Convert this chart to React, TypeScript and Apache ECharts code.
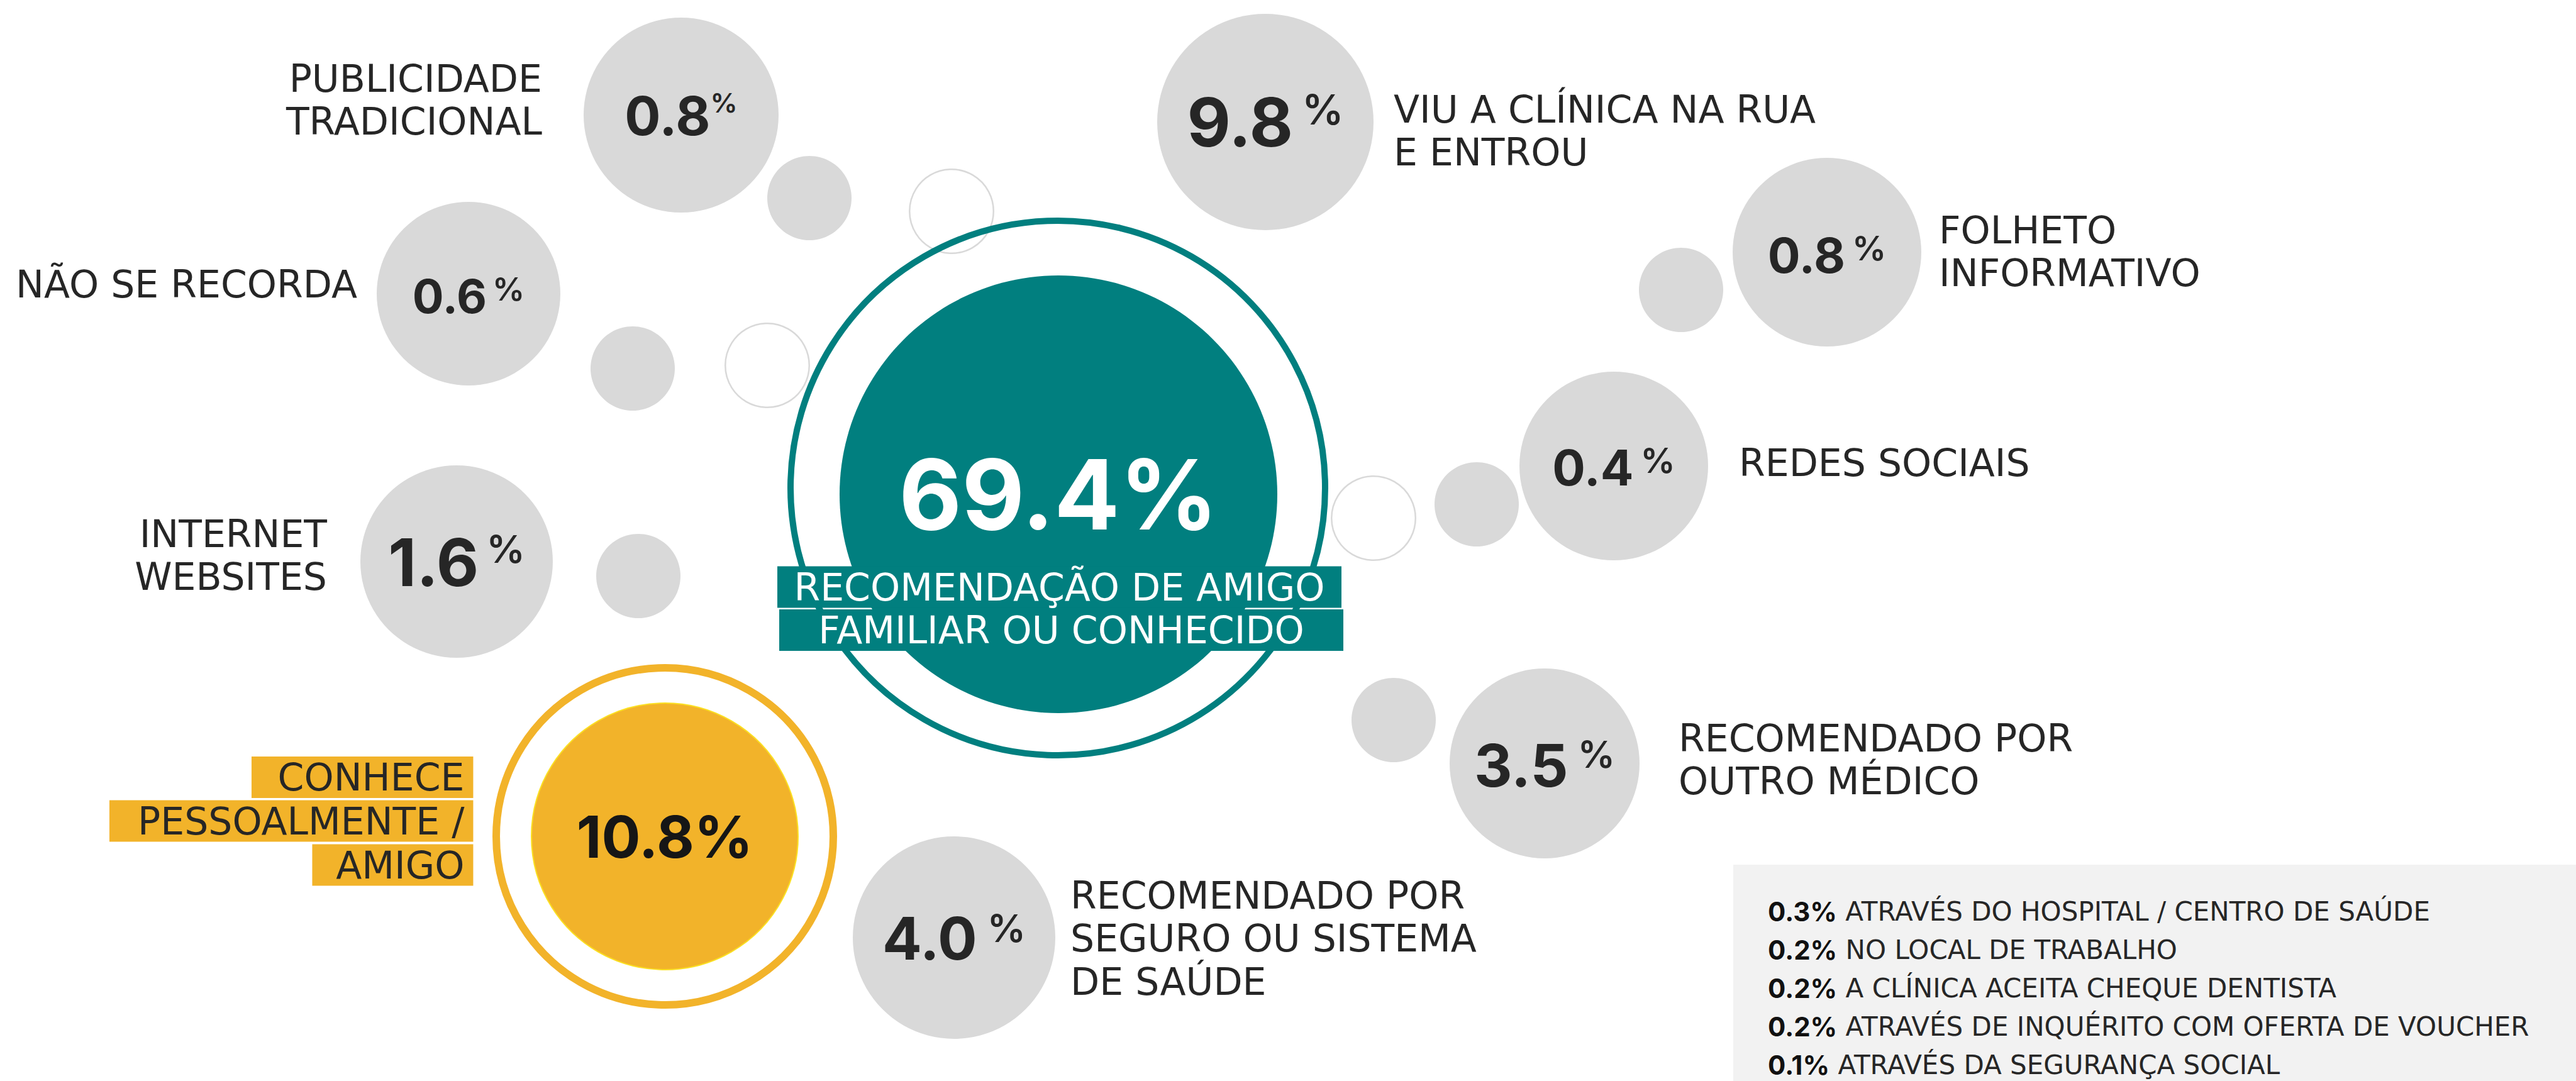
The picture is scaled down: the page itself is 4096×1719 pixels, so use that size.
import React, { useEffect, useRef } from 'react';
import * as echarts from 'echarts';

// ---------------- DATA ----------------
const categories = [
  'PUBLICIDADE\nTRADICIONAL',
  'NÃO SE RECORDA',
  'INTERNET\nWEBSITES',
  'VIU A CLÍNICA NA RUA\nE ENTROU',
  'FOLHETO\nINFORMATIVO',
  'REDES SOCIAIS',
  'RECOMENDADO POR\nOUTRO MÉDICO',
  'RECOMENDADO POR\nSEGURO OU SISTEMA\nDE SAÚDE',
];
const values = [0.8, 0.6, 1.6, 9.8, 0.8, 0.4, 3.5, 4.0];

const mainCategory = 'RECOMENDAÇÃO DE AMIGO\nFAMILIAR OU CONHECIDO';
const mainValue = 69.4;

const personalCategory = 'CONHECE\nPESSOALMENTE /\nAMIGO';
const personalValue = 10.8;

const otherCategories = [
  'ATRAVÉS DO HOSPITAL / CENTRO DE SAÚDE',
  'NO LOCAL DE TRABALHO',
  'A CLÍNICA ACEITA CHEQUE DENTISTA',
  'ATRAVÉS DE INQUÉRITO COM OFERTA DE VOUCHER',
  'ATRAVÉS DA SEGURANÇA SOCIAL',
];
const otherValues = [0.3, 0.2, 0.2, 0.2, 0.1];

// ---------------- LAYOUT / STYLE ----------------
const W = 4096;
const H = 1719;
const TEXT = '#262626';
const GRAY = '#d9d9d9';
const TEAL = '#017f7f';
const YELLOW = '#f2b32a';
const LABEL_FONT = 'DejaVu Sans';
const NUM_FONT = 'Inter';
const LABEL_SIZE = 60;
const LABEL_LH = 68.5;

type BL = {
  x: number; y: number; r: number; num: number; pct: number; raise: number;
  gap: number; dy: number; lx: number; ly: number; side: 'left' | 'right';
};
const bubbleLayout: BL[] = [
  { x: 1083, y: 183, r: 155, num: 85, pct: 43, raise: 5, gap: 0, dy: 1, lx: 862, ly: 159, side: 'left' },
  { x: 745, y: 467, r: 146, num: 74, pct: 51, raise: 18, gap: 9, dy: 4, lx: 568, ly: 452, side: 'left' },
  { x: 726, y: 893, r: 153, num: 104, pct: 61, raise: 14, gap: 12, dy: 1, lx: 520, ly: 883, side: 'left' },
  { x: 2012, y: 194, r: 172, num: 107, pct: 66, raise: 19, gap: 14, dy: 0, lx: 2216, ly: 208, side: 'right' },
  { x: 2905, y: 401, r: 150, num: 77, pct: 54, raise: 20, gap: 11, dy: 5, lx: 3083, ly: 400, side: 'right' },
  { x: 2566, y: 741, r: 150, num: 78, pct: 55, raise: 17, gap: 11, dy: 2, lx: 2765, ly: 736, side: 'right' },
  { x: 2456, y: 1214, r: 151, num: 94, pct: 59, raise: 18, gap: 15, dy: 3, lx: 2669, ly: 1208, side: 'right' },
  { x: 1517, y: 1491, r: 161, num: 93, pct: 61, raise: 18, gap: 16, dy: 1, lx: 1702, ly: 1492, side: 'right' },
];

const DOT_R = 67;
const dotLayout = [[1287, 315], [1006, 586], [1015, 916], [2673, 461], [2348, 802], [2216, 1145]];
const RING_R = 68;
const ringLayout = [[1513, 336], [1220, 581], [2184, 824]];

const tealLayout = { ringX: 1682, ringY: 776, outerR: 430, ringW: 10, x: 1683, y: 786, r: 348, fontSize: 154 };
const tealTags = [
  { x: 1684.5, y: 933.5, w: 897 },
  { x: 1687.5, y: 1002, w: 897 },
];
const yellowLayout = { x: 1057, y: 1330, outerR: 274, ringW: 12, r: 212, fontSize: 92 };
const yellowTags = [
  { x: 752.5, y: 1236, w: 352.5 },
  { x: 752.5, y: 1305.5, w: 578.5 },
  { x: 752.5, y: 1375.5, w: 256 },
];
const TAG_H = 66;

const otherPanel = { x: 2756, y: 1375 };
const otherText = { x: 2811, y0: 1449, step: 61, size: 42, lh: 42 };

const fmt = (v: number) => v.toFixed(1);

function buildOption(): any {
  const transparent = 'rgba(0,0,0,0)';
  return {
    animation: false,
    backgroundColor: '#ffffff',
    grid: { left: 0, right: 0, top: 0, bottom: 0, containLabel: false },
    xAxis: { type: 'value', min: 0, max: W, show: false },
    yAxis: { type: 'value', min: 0, max: H, inverse: true, show: false },
    graphic: [
      {
        type: 'rect',
        z: 0,
        silent: true,
        shape: { x: otherPanel.x, y: otherPanel.y, width: W - otherPanel.x, height: H - otherPanel.y },
        style: { fill: '#f2f2f2' },
      },
    ],
    series: [
      {
        type: 'scatter', name: 'dots', silent: true, z: 2,
        itemStyle: { color: GRAY, opacity: 1 },
        data: dotLayout.map(([x, y]) => ({ value: [x, y], symbolSize: 2 * DOT_R })),
      },
      {
        type: 'scatter', name: 'rings', silent: true, z: 2,
        itemStyle: { color: transparent, borderColor: GRAY, borderWidth: 2.5, opacity: 1 },
        data: ringLayout.map(([x, y]) => ({ value: [x, y], symbolSize: 2 * RING_R - 2.5 })),
      },
      {
        type: 'scatter', name: 'highlightRings', silent: true, z: 3,
        itemStyle: { opacity: 1 },
        data: [
          {
            value: [tealLayout.ringX, tealLayout.ringY],
            symbolSize: 2 * tealLayout.outerR - tealLayout.ringW,
            itemStyle: { color: transparent, borderColor: TEAL, borderWidth: tealLayout.ringW, opacity: 1 },
          },
          {
            value: [yellowLayout.x, yellowLayout.y],
            symbolSize: 2 * yellowLayout.outerR - yellowLayout.ringW,
            itemStyle: { color: transparent, borderColor: YELLOW, borderWidth: yellowLayout.ringW, opacity: 1 },
          },
        ],
      },
      {
        type: 'scatter', name: 'highlights', silent: true, z: 4,
        itemStyle: { opacity: 1 },
        data: [
          {
            name: mainCategory,
            value: [tealLayout.x, tealLayout.y],
            symbolSize: 2 * tealLayout.r,
            itemStyle: { color: TEAL, opacity: 1 },
            label: {
              show: true, position: 'inside',
              formatter: fmt(mainValue) + '%',
              color: '#ffffff', fontFamily: NUM_FONT, fontWeight: 700, fontSize: tealLayout.fontSize,
            },
          },
          {
            name: personalCategory,
            value: [yellowLayout.x, yellowLayout.y],
            symbolSize: 2 * yellowLayout.r,
            itemStyle: { color: YELLOW, borderColor: '#fbe022', borderWidth: 2, opacity: 1 },
            label: {
              show: true, position: 'inside',
              formatter: fmt(personalValue) + '%',
              color: '#161616', fontFamily: NUM_FONT, fontWeight: 700, fontSize: yellowLayout.fontSize,
            },
          },
        ],
      },
      {
        type: 'scatter', name: 'bubbles', silent: true, z: 4,
        itemStyle: { color: GRAY, opacity: 1 },
        data: values.map((v, i) => {
          const L = bubbleLayout[i];
          return {
            name: categories[i],
            value: [L.x, L.y],
            symbolSize: 2 * L.r,
            label: {
              show: true, position: 'inside', offset: [0, L.dy],
              formatter: `{d|${fmt(v)}}{p|%}`,
              rich: {
                d: { fontFamily: NUM_FONT, fontWeight: 700, fontSize: L.num, lineHeight: L.num, color: TEXT },
                p: {
                  fontFamily: NUM_FONT, fontWeight: 600, fontSize: L.pct,
                  lineHeight: L.num - 2 * L.raise, verticalAlign: 'top',
                  padding: [0, 0, 0, L.gap], color: TEXT,
                },
              },
            },
          };
        }),
      },
      {
        type: 'scatter', name: 'categoryLabels', silent: true, z: 5,
        symbolSize: 0.1,
        itemStyle: { color: transparent, opacity: 1 },
        data: categories.map((c, i) => {
          const L = bubbleLayout[i];
          return {
            value: [L.lx, L.ly],
            label: {
              show: true,
              position: L.side === 'left' ? 'left' : 'right',
              distance: 0,
              align: L.side === 'left' ? 'right' : 'left',
              verticalAlign: 'middle',
              formatter: c,
              fontFamily: LABEL_FONT, fontSize: LABEL_SIZE, lineHeight: LABEL_LH, color: TEXT,
            },
          };
        }),
      },
      {
        type: 'scatter', name: 'tags', silent: true, z: 6,
        symbolSize: 0.1,
        itemStyle: { color: transparent, opacity: 1 },
        data: [
          ...mainCategory.split('\n').map((t, i) => ({
            value: [tealTags[i].x, tealTags[i].y],
            label: {
              show: true, position: 'inside',
              formatter: t,
              width: tealTags[i].w, lineHeight: TAG_H, align: 'center', verticalAlign: 'middle',
              backgroundColor: TEAL, color: '#ffffff',
              fontFamily: LABEL_FONT, fontSize: 60,
            },
          })),
          ...personalCategory.split('\n').map((t, i) => ({
            value: [yellowTags[i].x, yellowTags[i].y],
            label: {
              show: true, position: 'left', distance: 0,
              formatter: t,
              width: yellowTags[i].w - 14, lineHeight: TAG_H, padding: [0, 14, 0, 0],
              align: 'right', verticalAlign: 'middle',
              backgroundColor: YELLOW, color: TEXT,
              fontFamily: LABEL_FONT, fontSize: LABEL_SIZE,
            },
          })),
        ],
      },
      {
        type: 'scatter', name: 'others', silent: true, z: 6,
        symbolSize: 0.1,
        itemStyle: { color: transparent, opacity: 1 },
        data: otherValues.map((v, i) => ({
          value: [otherText.x, otherText.y0 + i * otherText.step],
          label: {
            show: true, position: 'right', distance: 0, align: 'left', verticalAlign: 'middle',
            formatter: `{b|${fmt(v)}%}{t| ${otherCategories[i]}}`,
            rich: {
              b: { fontFamily: NUM_FONT, fontWeight: 700, fontSize: otherText.size, lineHeight: otherText.lh, color: '#111111' },
              t: { fontFamily: LABEL_FONT, fontSize: otherText.size, lineHeight: otherText.lh, color: TEXT },
            },
          },
        })),
      },
    ],
  };
}

export default function App() {
  const ref = useRef<HTMLDivElement>(null);
  useEffect(() => {
    if (!ref.current) return;
    const chart = echarts.init(ref.current, null, { renderer: 'svg', width: W, height: H });
    chart.setOption(buildOption());
    return () => chart.dispose();
  }, []);
  return (
    <div
      ref={ref}
      style={{ position: 'absolute', left: 0, top: 0, width: W, height: H, overflow: 'hidden', background: '#fff' }}
    />
  );
}
